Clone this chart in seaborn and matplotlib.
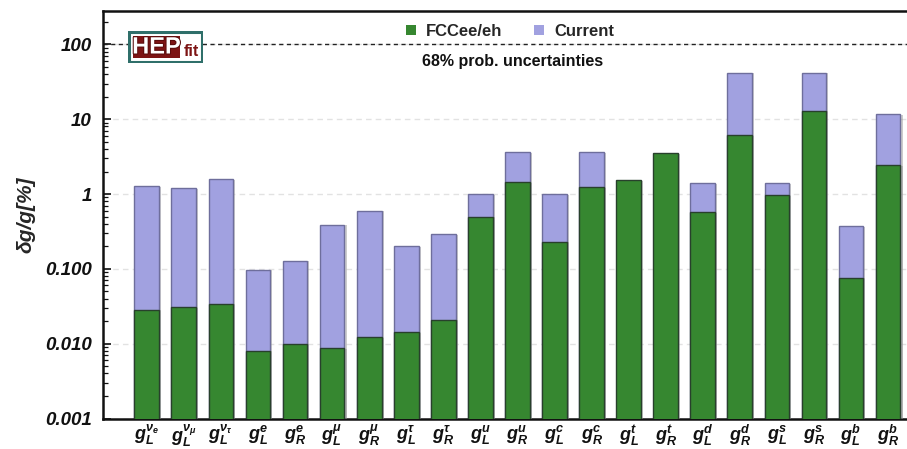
import numpy as np
import pandas as pd
import seaborn as sns
import matplotlib
matplotlib.use("Agg")
import matplotlib.pyplot as plt
from matplotlib.patches import Patch, Rectangle
from matplotlib import patheffects as pe
from matplotlib.ticker import FixedLocator, FixedFormatter, LogLocator, NullFormatter

# Coupling labels (x axis)
couplings = [
    r"$g_L^{\nu_e}$", r"$g_L^{\nu_\mu}$", r"$g_L^{\nu_\tau}$",
    r"$g_L^e$", r"$g_R^e$", r"$g_L^\mu$", r"$g_R^\mu$",
    r"$g_L^\tau$", r"$g_R^\tau$", r"$g_L^u$", r"$g_R^u$",
    r"$g_L^c$", r"$g_R^c$", r"$g_L^t$", r"$g_R^t$",
    r"$g_L^d$", r"$g_R^d$", r"$g_L^s$", r"$g_R^s$",
    r"$g_L^b$", r"$g_R^b$",
]

# Relative uncertainties in percent (68% prob.)
fcc_ee_eh = [0.0285, 0.0306, 0.0343, 0.0081, 0.0100, 0.0088, 0.0122,
             0.0143, 0.0209, 0.50, 1.43, 0.23, 1.24, 1.54, 3.50,
             0.57, 6.1, 0.96, 13.0, 0.076, 2.42]
current = [1.28, 1.20, 1.57, 0.098, 0.129, 0.39, 0.60,
           0.203, 0.294, 0.99, 3.64, 0.99, 3.64, np.nan, np.nan,
           1.39, 42.0, 1.39, 42.0, 0.376, 11.7]

# Y axis ticks
ytick_values = [0.001, 0.01, 0.1, 1, 10, 100]
ytick_labels = ["0.001", "0.010", "0.100", "1", "10", "100"]

GREEN = "#368730"
PURPLE = "#a1a1e0"

sns.set_theme(style="white")
plt.rcParams["font.family"] = ["Liberation Sans", "DejaVu Sans"]
plt.rcParams["font.weight"] = "bold"
plt.rcParams["mathtext.fontset"] = "custom"
plt.rcParams["mathtext.it"] = "Liberation Sans:italic:bold"
plt.rcParams["mathtext.rm"] = "Liberation Sans:bold"
plt.rcParams["mathtext.bf"] = "Liberation Sans:bold"

df = pd.DataFrame({"coupling": couplings, "fcc": fcc_ee_eh, "current": current})

W, H = 907, 449
fig = plt.figure(figsize=(W / 100, H / 100), dpi=100)
ax = fig.add_axes([103 / W, 1 - 418.5 / H, (907 - 103) / W, (418.5 - 11) / H])

bar_w = 0.667
sns.barplot(data=df, x="coupling", y="current", order=couplings, color=PURPLE,
            saturation=1, width=bar_w, edgecolor="#6e6e9c", linewidth=1.0,
            errorbar=None, ax=ax, zorder=2)
sns.barplot(data=df, x="coupling", y="fcc", order=couplings, color=GREEN,
            saturation=1, width=bar_w, edgecolor="#28402c", linewidth=1.0,
            errorbar=None, ax=ax, zorder=3)

shadow = [pe.SimplePatchShadow(offset=(1.5, -0.5), shadow_rgbFace="#9a9a9a", alpha=0.5),
          pe.Normal()]
for p in ax.patches:
    p.set_path_effects(shadow)

ax.set_yscale("log")
ax.set_ylim(0.001, 279.6)
ax.set_xlim(-1.18, 20.51)

ax.yaxis.set_major_locator(FixedLocator(ytick_values))
ax.yaxis.set_major_formatter(FixedFormatter(ytick_labels))
ax.yaxis.set_minor_locator(LogLocator(base=10, subs=np.arange(2, 10)))
ax.yaxis.set_minor_formatter(NullFormatter())

for t in ax.get_yticklabels():
    t.set_fontstyle("italic")
    t.set_fontweight("bold")
    t.set_fontsize(13.5)

ax.tick_params(axis="y", which="major", direction="in", length=6, width=1.2,
               pad=8, left=True, right=False, colors="#111111")
ax.tick_params(axis="y", which="minor", direction="in", length=3.5, width=0.9,
               left=True, right=False, colors="#111111")
ax.tick_params(axis="x", which="major", direction="in", length=3, width=1,
               bottom=True, top=False, pad=3, labelsize=13, colors="#111111")

ax.grid(axis="y", which="major", color="#e2e2e2", linestyle=(0, (4, 3)), linewidth=1)
ax.set_axisbelow(True)

for side in ["left", "top", "bottom"]:
    ax.spines[side].set_visible(True)
    ax.spines[side].set_color("#111111")
    ax.spines[side].set_linewidth(1.8)
ax.spines["right"].set_visible(False)

ax.set_xlabel("")
ax.set_ylabel("δg/g[%]", fontsize=15, fontstyle="italic", fontweight="bold",
              labelpad=7)

# Reference level at 100 %
ax.axhline(100, color="#222222", linestyle=(0, (3, 2.5)), linewidth=1.0, zorder=1)

# Legend
handles = [Patch(facecolor=GREEN, edgecolor="none", label="FCCee/eh"),
           Patch(facecolor=PURPLE, edgecolor="none", label="Current")]
fig.legend(handles=handles, loc="center", bbox_to_anchor=(510 / W, 1 - 31.5 / H),
           ncol=2, frameon=False, handlelength=0.6, handleheight=0.6,
           handletextpad=0.6, columnspacing=1.9, prop={"weight": "bold", "size": 12})

fig.text(513 / W, 1 - 61.5 / H, "68% prob. uncertainties", ha="center", va="center",
         fontsize=11.5, fontweight="bold", color="#111111")

# HEPfit logo
lax = fig.add_axes([128 / W, 1 - 62.5 / H, 75 / W, 31.5 / H])
lax.set_xlim(0, 75)
lax.set_ylim(0, 31.5)
lax.axis("off")
lax.add_patch(Rectangle((0.8, 0.8), 73.4, 29.9, facecolor="white",
                        edgecolor="#2f6f6a", linewidth=2.2))
lax.add_patch(Rectangle((5, 5), 47, 21.5, facecolor="#7d1414", edgecolor="none"))
lax.text(28.5, 15.5, "HEP", ha="center", va="center", fontsize=17,
         fontweight="bold", color="white",
         path_effects=[pe.withStroke(linewidth=1.5, foreground="#5a0c0c")])
lax.text(63.5, 11.5, "fit", ha="center", va="center", fontsize=11.5,
         fontweight="bold", color="#7d1414")

fig.savefig("out.png", dpi=100)
